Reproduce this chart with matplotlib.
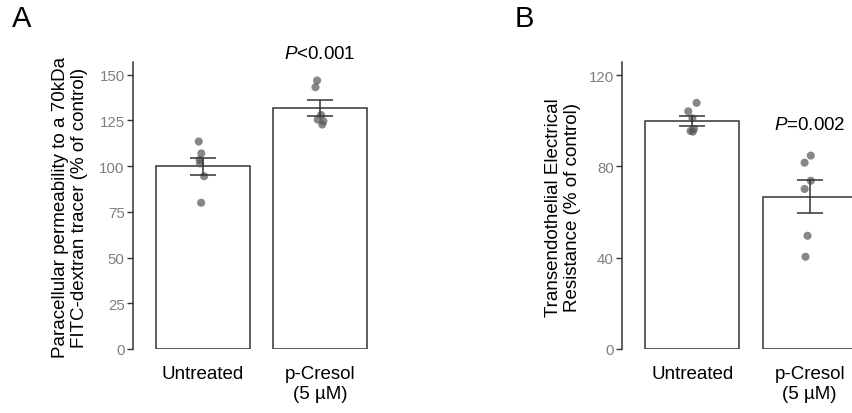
import matplotlib as mpl
mpl.use('Agg')
import matplotlib.pyplot as plt
import numpy as np

##########################
groups = ['Untreated', 'p-Cresol\n(5 µM)']

# individual wells, panel A (permeability, % of control)
perm_untreated = [113.5, 107.0, 103.5, 101.5, 94.5, 80.0]
perm_cresol = [146.9, 143.2, 128.0, 125.5, 124.6, 122.8]
# individual wells, panel B (TEER, % of control)
teer_untreated = [107.8, 104.1, 101.0, 95.5, 96.4, 95.2]
teer_cresol = [84.7, 81.6, 73.7, 70.1, 49.6, 40.4]

# small horizontal jitter of the dots (x units)
jit_a = [[-0.037, -0.015, -0.03, -0.025, 0.009, -0.017],
         [-0.024, -0.038, 0.01, -0.019, 0.03, 0.02]]
jit_b = [[0.036, -0.035, 0.0, -0.015, 0.013, 0.004],
         [0.01, -0.043, 0.01, -0.043, -0.018, -0.035]]

pval_a = '$\\mathit{P}$<0.001'
pval_b = '$\\mathit{P}$=0.002'
##########################

plt.rcParams['font.family'] = ['Liberation Sans', 'DejaVu Sans']
plt.rcParams['mathtext.fontset'] = 'custom'
plt.rcParams['mathtext.rm'] = 'Liberation Sans'
plt.rcParams['mathtext.it'] = 'Liberation Sans:italic'

dark = '#333333'
tickgrey = '#7f7f7f'
fs = 13.5

fig = plt.figure(figsize=(8.53, 4.14), dpi=100)
W, H = 853., 414.


def panel(rect, data, jit, ylim, yticks, ylabel, lab_x, ptxt, ptxt_y):
    l, r, t, b = rect
    ax = fig.add_axes([l / W, 1 - b / H, (r - l) / W, (b - t) / H])
    x = np.arange(1, len(data) + 1)
    means = [np.mean(d) for d in data]
    ses = [np.std(d, ddof=1) / np.sqrt(len(d)) for d in data]
    ax.bar(x, means, width=0.8, facecolor='white', edgecolor=dark, linewidth=1.1, zorder=1)
    for i, d in enumerate(data):
        xs = x[i] + np.array(jit[i])
        ax.scatter(xs, d, s=34, color='#555555', alpha=0.7, edgecolors='none', zorder=3)
    ax.errorbar(x, means, yerr=ses, fmt='none', ecolor=dark, elinewidth=1.1,
                capsize=9.5, capthick=1.1, zorder=4)
    ax.text(2, ptxt_y, ptxt, ha='center', va='center', fontsize=fs)
    ax.set_xlim(0.4, 2.6)
    ax.set_ylim(*ylim)
    ax.set_yticks(yticks)
    ax.set_xticks(x)
    ax.set_xticklabels(groups, fontsize=fs, color='black', linespacing=1.25, va='top')
    ax.tick_params(axis='x', length=0, pad=11.5)
    ax.tick_params(axis='y', length=4, width=1, color=dark, labelcolor=tickgrey, labelsize=10.8, pad=2)
    for s in ['top', 'right', 'bottom']:
        ax.spines[s].set_visible(False)
    ax.spines['left'].set_color(dark)
    ax.spines['left'].set_linewidth(1.1)
    ax.set_ylabel(ylabel, fontsize=fs, linespacing=1.15, va='center')
    ax.yaxis.set_label_coords((lab_x - l) / (r - l), 0.495)
    ax.patch.set_alpha(0)
    return ax


# panel A
axA = panel((133, 390, 63, 350), [perm_untreated, perm_cresol], jit_a,
            (0, 157), [0, 25, 50, 75, 100, 125, 150],
            'Paracellular permeability to a 70kDa\nFITC-dextran tracer (% of control)',
            70, pval_a, 161.5)
# panel B (right bar runs off the figure edge like the original)
axB = panel((622, 880, 63, 350), [teer_untreated, teer_cresol], jit_b,
            (0, 125.7), [0, 40, 80, 120],
            'Transendothelial Electrical\nResistance (% of control)',
            563, pval_b, 98.5)

fig.text(22 / W, 1 - 19 / H, 'A', fontsize=21, ha='center', va='center')
fig.text(524 / W, 1 - 19 / H, 'B', fontsize=21, ha='center', va='center')

plt.savefig('out.png', dpi=100)
